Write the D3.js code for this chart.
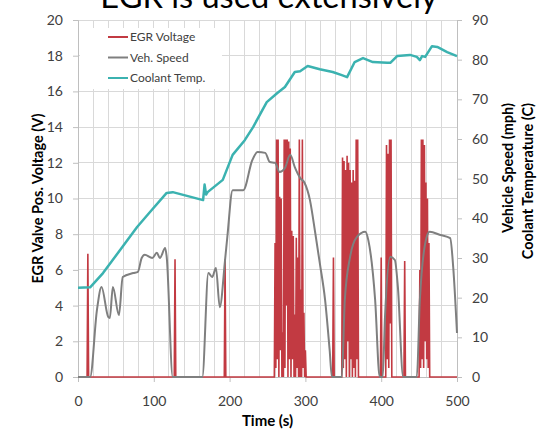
<!DOCTYPE html>
<html>
<head>
<meta charset="utf-8">
<script src="https://cdn.jsdelivr.net/npm/d3@7/dist/d3.min.js"></script>
<style>
  html, body { margin: 0; padding: 0; background: #fff; }
  svg { display: block; font-family: Lato, "Open Sans", sans-serif; }
</style>
</head>
<body>
<svg id="chart" width="538" height="432"></svg>
<script>
// Tick values for the three axes
const timeTicks = [0, 100, 200, 300, 400, 500];
const voltTicks = [0, 2, 4, 6, 8, 10, 12, 14, 16, 18, 20];
const rightTicks = [0, 10, 20, 30, 40, 50, 60, 70, 80, 90];

// Coolant temperature (C), secondary axis
const coolantTime = [0, 16, 33, 78, 95, 117, 125, 165, 167, 169, 171, 191, 204, 220, 231, 249, 263, 273, 286, 293, 303, 319, 336, 348, 355, 365, 376, 389, 408, 412, 421, 438, 447, 451, 454, 458, 467, 474, 487, 500];
const coolantTemp = [22.5, 22.6, 26.2, 37.8, 41.6, 46.4, 46.6, 44.6, 48.5, 46.0, 46.6, 49.7, 56.0, 59.7, 63.0, 69.3, 71.6, 73.1, 76.9, 77.1, 78.4, 77.6, 76.9, 76.1, 75.6, 79.4, 80.4, 79.4, 79.2, 79.2, 80.9, 81.2, 80.7, 79.9, 80.9, 80.7, 83.4, 83.2, 81.9, 80.9];

// Vehicle speed (mph), secondary axis
const speedTime = [0, 16, 25, 31, 40, 42, 46, 54, 59, 73, 79, 84, 88, 98, 104, 108, 115, 117, 125, 164, 172, 177, 182, 187, 194, 197, 204, 218, 230, 237, 247, 253, 260, 266, 273, 280, 286, 293, 299, 306, 313, 319, 326, 332, 335, 348, 352, 359, 368, 379, 383, 392, 398, 402, 405, 412, 418, 422, 429, 447, 451, 460, 464, 478, 491, 495, 500];
const speedMph = [0, 0, 16.9, 22.7, 15.1, 14.9, 22.7, 15.6, 25.2, 26.2, 26.5, 30.0, 30.8, 30.0, 31.3, 30.0, 32.5, 30.3, 0, 0, 26.2, 25.2, 27.5, 17.6, 29.5, 35.3, 47.1, 47.1, 54.7, 56.7, 56.5, 54.2, 54.0, 51.7, 52.7, 56.0, 52.9, 50.2, 48.9, 44.6, 36.3, 28.7, 19.4, 6.8, 0, 0, 19.4, 30.3, 35.3, 36.6, 34.5, 19.4, 0, 0, 15.1, 30.3, 29.5, 22.7, 0, 0, 19.4, 35.3, 36.6, 35.8, 35.0, 27.7, 11.1];

// EGR valve position voltage (V), primary axis
const egrTime = [0, 12, 13, 14, 127, 128, 129, 193, 194, 195,
  259, 260, 261, 262, 263, 264, 265, 266, 267, 268, 269, 270, 271, 272, 273, 274, 275, 276, 277, 278, 279, 280,
  281, 282, 283, 284, 285, 286, 287, 288, 289, 290, 291, 292, 293, 294, 295, 296, 297, 298, 299, 300, 301,
  336, 337, 338,
  348, 349, 350, 351, 352, 353, 354, 355, 356, 357, 358, 359, 360, 361, 362, 363, 364, 365, 366, 367, 368, 369, 370,
  399, 400, 401,
  406, 407, 408, 409, 410, 411, 412, 413, 414,
  430, 431, 432,
  450, 451, 452, 453, 454, 455, 456, 457, 458, 459, 460, 461, 462, 463, 464,
  500];
const egrVolt = [0, 0, 6.9, 0, 0, 6.6, 0, 0, 6.6, 0,
  0, 7.5, 0.5, 13.3, 1, 13.3, 0, 10.1, 1.5, 10.0, 0, 2.5, 0, 13.3, 0.5, 13.3, 4, 13.3, 0, 13.2, 1, 12.8,
  0, 8.2, 1, 7.9, 0, 3.5, 0, 7.8, 0.5, 6.7, 0, 13.3, 0, 4.9, 0, 13.3, 0.5, 3.6, 0, 1.5, 0,
  0, 6.7, 0,
  0, 12.3, 0.5, 12.1, 1, 11.6, 0, 12.4, 2, 12.0, 0, 11.6, 1, 10.9, 0, 11.6, 0.5, 11.0, 0, 13.3, 1, 13.3, 0,
  0, 6.7, 0,
  0, 13.0, 1, 12.5, 0.5, 13.3, 3.0, 13.3, 0,
  0, 6.5, 0,
  0, 6.0, 0.5, 13.3, 1, 13.3, 0.5, 13.0, 2, 10.9, 1, 10.0, 0.5, 7.5, 0,
  0];

const series = [
  { name: "EGR Voltage", color: "#c23a42" },
  { name: "Veh. Speed", color: "#7f7f7f" },
  { name: "Coolant Temp.", color: "#3bb2b0" }
];

const svg = d3.select("#chart");
const plot = { left: 78, right: 457, top: 20, bottom: 377 };

const x = d3.scaleLinear().domain([0, 500]).range([plot.left, plot.right]);
const yL = d3.scaleLinear().domain([0, 20]).range([plot.bottom, plot.top]);
const yR = d3.scaleLinear().domain([0, 90]).range([plot.bottom, plot.top]);

const gridColor = "#d9d9d9";
const textColor = "#404040";

// Gridlines: vertical every 20 s, horizontal on the voltage ticks
const grid = svg.append("g");
grid.selectAll("line.v").data(d3.range(20, 501, 20)).join("line")
  .attr("x1", d => x(d)).attr("x2", d => x(d))
  .attr("y1", plot.top).attr("y2", plot.bottom)
  .attr("stroke", gridColor).attr("stroke-width", 1).attr("shape-rendering", "crispEdges");
grid.selectAll("line.h").data(voltTicks.slice(1)).join("line")
  .attr("x1", plot.left).attr("x2", plot.right)
  .attr("y1", d => yL(d)).attr("y2", d => yL(d))
  .attr("stroke", gridColor).attr("stroke-width", 1).attr("shape-rendering", "crispEdges");

// Axes
function styleAxis(g) {
  g.selectAll("path.domain").attr("stroke", "#bfbfbf");
  g.selectAll(".tick line").attr("stroke", "#bfbfbf");
  g.selectAll(".tick text").attr("fill", textColor).style("font-size", "14px").style("font-family", "Lato, sans-serif");
}
svg.append("g").attr("transform", `translate(${plot.left},0)`)
  .call(d3.axisLeft(yL).tickValues(voltTicks).tickSize(5).tickPadding(10).tickFormat(d3.format("d")))
  .call(styleAxis);
svg.append("g").attr("transform", `translate(${plot.right},0)`)
  .call(d3.axisRight(yR).tickValues(rightTicks).tickSize(5).tickPadding(10).tickFormat(d3.format("d")))
  .call(styleAxis);
svg.append("g").attr("transform", `translate(0,${plot.bottom})`)
  .call(d3.axisBottom(x).tickValues(timeTicks).tickSize(5).tickPadding(14).tickFormat(d3.format("d")))
  .call(styleAxis);

// Series lines
const egrLine = d3.line().x((d, i) => x(egrTime[i])).y(d => yL(d));
svg.append("path").datum(egrVolt)
  .attr("d", egrLine).attr("fill", "none")
  .attr("stroke", series[0].color).attr("stroke-width", 1.6).attr("stroke-linejoin", "miter");

const speedLine = d3.line().x((d, i) => x(speedTime[i])).y(d => yR(d)).curve(d3.curveMonotoneX);
svg.append("path").datum(speedMph)
  .attr("d", speedLine).attr("fill", "none")
  .attr("stroke", series[1].color).attr("stroke-width", 2).attr("stroke-linejoin", "round");

const coolantLine = d3.line().x((d, i) => x(coolantTime[i])).y(d => yR(d));
svg.append("path").datum(coolantTemp)
  .attr("d", coolantLine).attr("fill", "none")
  .attr("stroke", series[2].color).attr("stroke-width", 2.5).attr("stroke-linejoin", "round");

// Legend
const legend = svg.append("g");
legend.append("rect").attr("x", 80).attr("y", 28).attr("width", 142).attr("height", 61).attr("fill", "#fff");
const rows = legend.selectAll("g.row").data(series).join("g")
  .attr("transform", (d, i) => `translate(0,${37 + i * 20.5})`);
rows.append("line").attr("x1", 108).attr("x2", 128).attr("y1", 0).attr("y2", 0)
  .attr("stroke", d => d.color).attr("stroke-width", 2);
rows.append("text").attr("x", 130).attr("y", 0).attr("dy", "0.35em")
  .attr("fill", textColor).style("font-size", "12px").text(d => d.name);

// Axis titles
svg.append("text").attr("x", (plot.left + plot.right) / 2).attr("y", 426)
  .attr("text-anchor", "middle").attr("font-weight", "bold").style("font-size", "15px")
  .attr("fill", "#000").text("Time (s)");
svg.append("text").attr("transform", `translate(43,${(plot.top + plot.bottom) / 2}) rotate(-90)`)
  .attr("text-anchor", "middle").attr("font-weight", "bold").style("font-size", "14.5px")
  .attr("fill", "#000").text("EGR Valve Pos. Voltage (V)");
svg.append("text").attr("transform", "translate(513,103) rotate(-90)")
  .attr("text-anchor", "end").attr("font-weight", "bold").style("font-size", "14.5px")
  .attr("fill", "#000").text("Vehicle Speed (mph)");
svg.append("text").attr("transform", "translate(533,103) rotate(-90)")
  .attr("text-anchor", "end").attr("font-weight", "bold").style("font-size", "14.5px")
  .attr("fill", "#000").text("Coolant Temperature (C)");

// Slide title, partly above the top edge
const title = svg.append("text").attr("x", 269).attr("y", 8)
  .attr("text-anchor", "middle").attr("fill", "#000").style("font-size", "36px")
  .text("EGR is used extensively");
const tw = title.node().getComputedTextLength();
title.style("font-size", (36 * 338 / tw).toFixed(1) + "px");
</script>
</body>
</html>
